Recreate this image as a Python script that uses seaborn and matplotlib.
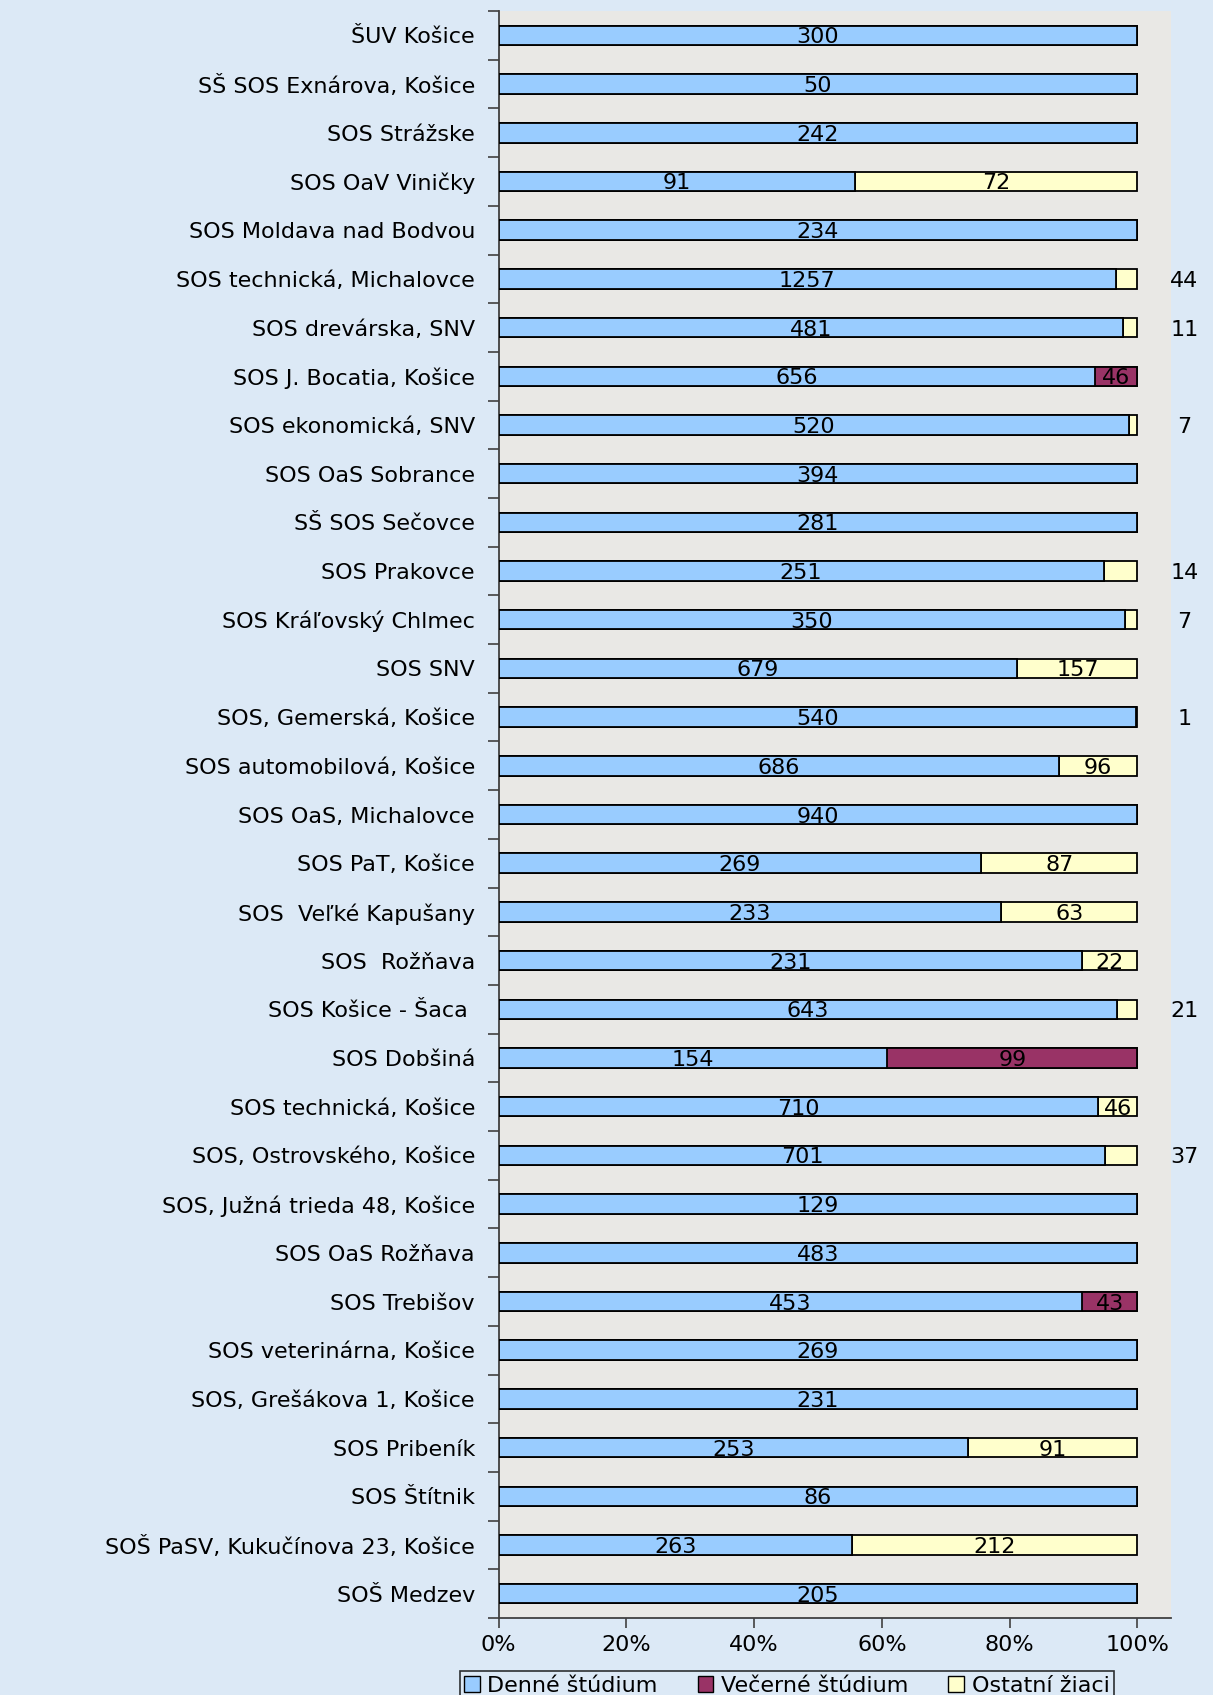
import numpy as np
import pandas as pd
import matplotlib
matplotlib.use('Agg')
import matplotlib.pyplot as plt
import seaborn as sns
from matplotlib.patches import Patch

skoly = [
    'ŠUV Košice', 'SŠ SOS Exnárova, Košice', 'SOS Strážske', 'SOS OaV Viničky',
    'SOS Moldava nad Bodvou', 'SOS technická, Michalovce', 'SOS drevárska, SNV',
    'SOS J. Bocatia, Košice', 'SOS ekonomická, SNV', 'SOS OaS Sobrance',
    'SŠ SOS Sečovce', 'SOS Prakovce', 'SOS Kráľovský Chlmec', 'SOS SNV',
    'SOS, Gemerská, Košice', 'SOS automobilová, Košice', 'SOS OaS, Michalovce',
    'SOS PaT, Košice', 'SOS  Veľké Kapušany', 'SOS  Rožňava', 'SOS Košice - Šaca ',
    'SOS Dobšiná', 'SOS technická, Košice', 'SOS, Ostrovského, Košice',
    'SOS, Južná trieda 48, Košice', 'SOS OaS Rožňava', 'SOS Trebišov',
    'SOS veterinárna, Košice', 'SOS, Grešákova 1, Košice', 'SOS Pribeník',
    'SOS Štítnik', 'SOŠ PaSV, Kukučínova 23, Košice', 'SOŠ Medzev',
]
denne = [300, 50, 242, 91, 234, 1257, 481, 656, 520, 394, 281, 251, 350, 679,
         540, 686, 940, 269, 233, 231, 643, 154, 710, 701, 129, 483, 453, 269,
         231, 253, 86, 263, 205]
vecerne = [0, 0, 0, 0, 0, 0, 0, 46, 0, 0, 0, 0, 0, 0,
           0, 0, 0, 0, 0, 0, 0, 99, 0, 0, 0, 0, 43, 0,
           0, 0, 0, 0, 0]
ostatni = [0, 0, 0, 72, 0, 44, 11, 0, 7, 0, 0, 14, 7, 157,
           1, 96, 0, 87, 63, 22, 21, 0, 46, 37, 0, 0, 0, 0,
           0, 91, 0, 212, 0]
serie = ['Denné štúdium', 'Večerné štúdium', 'Ostatní žiaci']
farby = ['#99ccff', '#993366', '#ffffcc']

df = pd.DataFrame({'skola': skoly, 'denne': denne, 'vecerne': vecerne, 'ostatni': ostatni})
spolu = df[['denne', 'vecerne', 'ostatni']].sum(axis=1)
df['p_denne'] = df['denne'] / spolu
df['p_vecerne'] = df['vecerne'] / spolu
df['p_ostatni'] = df['ostatni'] / spolu
df['kum1'] = df['p_denne']
df['kum2'] = df['p_denne'] + df['p_vecerne']
df['kum3'] = df['kum2'] + df['p_ostatni']

fig = plt.figure(figsize=(12.13, 16.95), dpi=100)
fig.patch.set_facecolor('#dce9f6')
ax = fig.add_axes([0.411, 0.0454, 0.554, 0.9481])
ax.set_facecolor('#e9e8e5')

# vrstvy od najdlhsej po najkratsiu
for stlpec, farba in zip(['kum3', 'kum2', 'kum1'], farby[::-1]):
    sns.barplot(data=df, y='skola', x=stlpec, orient='h', color=farba,
                edgecolor='black', linewidth=1.3, width=0.4, saturation=1,
                order=skoly, ax=ax, zorder=3)

pismo = ['DejaVu Sans']
velkost = 16
for i, r in df.iterrows():
    zaciatok = 0.0
    for hodnota, podiel in [(r['denne'], r['p_denne']), (r['vecerne'], r['p_vecerne']),
                            (r['ostatni'], r['p_ostatni'])]:
        if hodnota > 0:
            if podiel >= 0.06:
                ax.text(zaciatok + podiel / 2, i, f'{hodnota}', ha='center', va='center_baseline',
                        fontsize=velkost, family=pismo, zorder=4)
            else:
                ax.text(1.0736, i, f'{hodnota}', ha='center', va='center_baseline',
                        fontsize=velkost, family=pismo, clip_on=False, zorder=4)
        zaciatok += podiel

ax.set_xlim(0, 1.052)
ax.set_ylim(len(skoly) - 0.5, -0.5)
ax.set_xticks([0, 0.2, 0.4, 0.6, 0.8, 1.0])
ax.set_xticklabels(['0%', '20%', '40%', '60%', '80%', '100%'], fontsize=velkost, family=pismo)
ax.set_yticks(range(len(skoly)))
ax.set_yticklabels(skoly, fontsize=velkost, family=pismo)
ax.set_yticks(np.arange(-0.5, len(skoly), 1), minor=True)
ax.tick_params(axis='y', which='major', length=0, pad=17)
ax.tick_params(axis='y', which='minor', length=8, width=1.2, color='#404040')
ax.tick_params(axis='x', length=7, width=1.2, color='#404040', pad=5)
ax.set_xlabel('')
ax.set_ylabel('')
for s in ['top', 'right']:
    ax.spines[s].set_visible(False)
for s in ['left', 'bottom']:
    ax.spines[s].set_color('#404040')
    ax.spines[s].set_linewidth(1.3)
ax.grid(False)

ruky = [Patch(facecolor=f, edgecolor='black', linewidth=1) for f in farby]
leg = fig.legend(ruky, serie, loc='upper center', bbox_to_anchor=(0.6487, 0.0205),
                 ncol=3, frameon=True, fancybox=False,
                 handlelength=0.7, handleheight=0.7, handletextpad=0.35,
                 columnspacing=1.8, borderpad=0.2, prop={'family': pismo, 'size': velkost})
leg.get_frame().set_edgecolor('black')
leg.get_frame().set_facecolor('none')
leg.get_frame().set_linewidth(1.2)

fig.savefig('out.png', dpi=100, facecolor=fig.get_facecolor())
